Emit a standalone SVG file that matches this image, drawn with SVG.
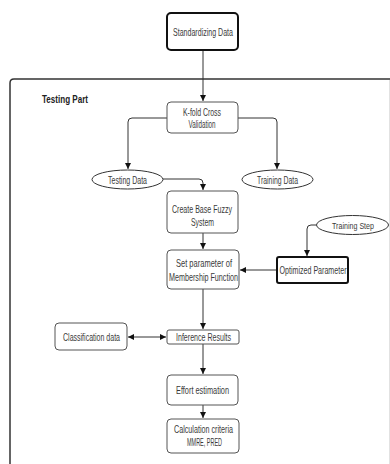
<svg xmlns="http://www.w3.org/2000/svg" width="390" height="464" viewBox="0 0 390 464">
<style>
.box{fill:#fff;stroke:#555;stroke-width:1}
.bold{fill:#fff;stroke:#111;stroke-width:2}
.ell{fill:#fff;stroke:#333;stroke-width:1}
.t{font-family:"Liberation Sans",Arial,sans-serif;font-size:10.5px;fill:#3a3a3a;text-anchor:middle}
.tb{font-family:"Liberation Sans",Arial,sans-serif;font-size:11px;font-weight:bold;fill:#222}
.c{fill:none;stroke:#333;stroke-width:1}
</style>
<defs>
<marker id="ah" viewBox="0 0 10 10" refX="10" refY="5" markerWidth="6" markerHeight="6" orient="auto-start-reverse" markerUnits="userSpaceOnUse">
<path d="M0,0 L10,5 L0,10 z" fill="#111"/>
</marker>
</defs>
<rect width="390" height="464" fill="#fff"/>
<g id="container">
<path d="M10,466 L10,83 Q10,79 14,79 L392,79" fill="none" stroke="#333" stroke-width="1.5"/>
<line x1="389.5" y1="80" x2="389.5" y2="466" stroke="#e2e2e2" stroke-width="1"/>
<text class="tb" x="42" y="103" textLength="46" lengthAdjust="spacingAndGlyphs">Testing Part</text>
</g>
<g id="connectors">
<path class="c" d="M203,50 L203,101" marker-end="url(#ah)"/>
<path class="c" d="M167,118 L132,118 Q128,118 128,122 L128,169" marker-end="url(#ah)"/>
<path class="c" d="M238,118 L273,118 Q277,118 277,122 L277,169" marker-end="url(#ah)"/>
<path class="c" d="M163,179 L199,179 Q203,179 203,183 L203,190" marker-end="url(#ah)"/>
<path class="c" d="M203,233 L203,249" marker-end="url(#ah)"/>
<path class="c" d="M316.5,225 L311,225 Q307,225 307,229 L307,256" marker-end="url(#ah)"/>
<path class="c" d="M277,270 L240,270" marker-end="url(#ah)"/>
<path class="c" d="M203,289 L203,329" marker-end="url(#ah)"/>
<path class="c" d="M128,337 L166,337" marker-start="url(#ah)" marker-end="url(#ah)"/>
<path class="c" d="M203,344 L203,374" marker-end="url(#ah)"/>
<path class="c" d="M203,405 L203,418" marker-end="url(#ah)"/>
</g>
<g id="standardizing">
<rect class="bold" x="167" y="13" width="71" height="37" rx="4"/>
<text class="t" x="203" y="35.5" textLength="60" lengthAdjust="spacingAndGlyphs">Standardizing Data</text>
</g>
<g id="kfold">
<rect class="box" x="167" y="102" width="71" height="31" rx="4"/>
<text class="t" x="202" y="116" textLength="38" lengthAdjust="spacingAndGlyphs">K-fold Cross</text>
<text class="t" x="202" y="128" textLength="27" lengthAdjust="spacingAndGlyphs">Validation</text>
</g>
<g id="testing-data">
<ellipse class="ell" cx="127.5" cy="179.5" rx="35.5" ry="9.5"/>
<text class="t" x="127.5" y="183.5" textLength="39" lengthAdjust="spacingAndGlyphs">Testing Data</text>
</g>
<g id="training-data">
<ellipse class="ell" cx="277.5" cy="179.5" rx="35.5" ry="9.5"/>
<text class="t" x="277.5" y="183.5" textLength="41" lengthAdjust="spacingAndGlyphs">Training Data</text>
</g>
<g id="create-base">
<rect class="box" x="167" y="191" width="71" height="42" rx="4"/>
<text class="t" x="202" y="213" textLength="60" lengthAdjust="spacingAndGlyphs">Create Base Fuzzy</text>
<text class="t" x="202.5" y="226" textLength="23" lengthAdjust="spacingAndGlyphs">System</text>
</g>
<g id="training-step">
<ellipse class="ell" cx="352.5" cy="225" rx="36" ry="9.5"/>
<text class="t" x="353" y="228.5" style="font-size:9.5px" textLength="42" lengthAdjust="spacingAndGlyphs">Training Step</text>
</g>
<g id="set-parameter">
<rect class="box" x="167" y="250" width="72" height="39" rx="4"/>
<text class="t" x="204" y="267" textLength="56" lengthAdjust="spacingAndGlyphs">Set parameter of</text>
<text class="t" x="203.5" y="280.5" textLength="69" lengthAdjust="spacingAndGlyphs">Membership Function</text>
</g>
<g id="optimized">
<rect class="bold" x="277" y="257" width="71" height="26" rx="2"/>
<text class="t" x="313" y="273.5" textLength="67" lengthAdjust="spacingAndGlyphs">Optimized Parameter</text>
</g>
<g id="classification">
<rect class="box" x="55" y="323" width="72" height="27" rx="4"/>
<text class="t" x="91.5" y="340.5" textLength="57" lengthAdjust="spacingAndGlyphs">Classification data</text>
</g>
<g id="inference">
<rect class="box" x="167" y="330" width="72" height="14" rx="2"/>
<text class="t" x="203.5" y="340.5" textLength="55" lengthAdjust="spacingAndGlyphs">Inference Results</text>
</g>
<g id="effort">
<rect class="box" x="167" y="375" width="71" height="30" rx="4"/>
<text class="t" x="202.5" y="393.5" textLength="53" lengthAdjust="spacingAndGlyphs">Effort estimation</text>
</g>
<g id="calculation">
<rect class="box" x="167" y="419" width="72" height="34" rx="4"/>
<text class="t" x="203.5" y="433" textLength="59" lengthAdjust="spacingAndGlyphs">Calculation criteria</text>
<text class="t" x="204.5" y="446" textLength="35" lengthAdjust="spacingAndGlyphs">MMRE, PRED</text>
</g>
</svg>
